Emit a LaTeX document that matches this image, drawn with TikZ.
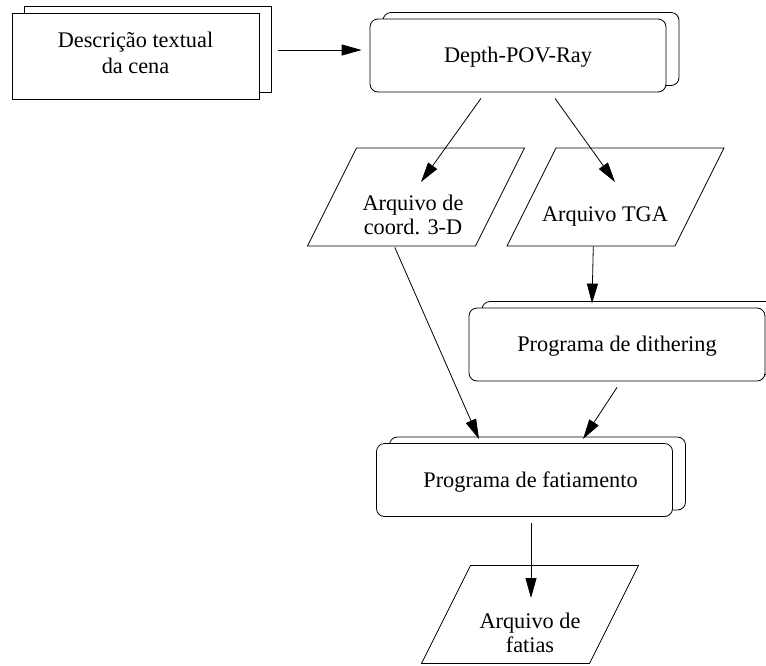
\documentclass[tikz,border=0pt]{standalone}
\usepackage{fontspec}
\setmainfont{Liberation Serif}
\usetikzlibrary{arrows.meta,shadows}
\begin{document}
\begin{tikzpicture}[x=1pt,y=-1pt,
  every node/.style={font=\fontsize{22.3}{24}\selectfont},
  lw/.style={line width=0.8pt},
  backcopy/.style={general shadow={draw=black, fill=white, line width=0.8pt, shadow xshift=#1, shadow yshift=6.5pt}},
  descbox/.style={lw, draw, fill=white, minimum width=247pt, minimum height=86pt, inner sep=0pt, backcopy=12pt},
  procbox/.style={lw, draw, fill=white, rounded corners=8pt, minimum width=296pt, minimum height=73pt, inner sep=0pt, text height=15.6pt, text depth=1pt, backcopy=13pt},
  databox/.style={lw, draw, rectangle, xslant=0.5, transform shape, minimum width=168pt, minimum height=98pt, inner sep=0pt},
  txt/.style={align=center, inner sep=0pt},
  arr/.style={lw, -{Triangle[length=20pt,width=11pt]}}
]
\useasboundingbox (0,0) rectangle (766,665);

% boxes
\node[descbox] (desc) at (135.5,56) {};
\node[procbox] (depth) at (518,55.5) {Depth-POV-Ray};
\node[databox] (coord) at (416,197) {};
\node[databox] (tga) at (615.5,197) {};
\node[procbox] (dith) at (617,344.5) {Programa de dithering};
\node[procbox] (fat) at (524.5,480) {\hspace*{12pt}Programa de fatiamento};
\node[databox] (fatias) at (530,614.5) {};

% texts
\node[txt] (desctext) at (135.5,52.5) {Descrição textual\\[2pt]da cena};
\node[txt] (coordtext) at (413,215) {Arquivo de\\coord. 3-D};
\node[txt] (tgatext) at (605,216.8) {Arquivo TGA};
\node[txt] (fatiastext) at (530,632.4) {Arquivo de\\fatias};

% connectors
\draw[arr] ([xshift=19pt,yshift=6pt]desc.east) -- ([xshift=-8pt,yshift=5.5pt]depth.west);
\draw[arr] ([xshift=-37pt,yshift=-6pt]depth.south) -- ([xshift=5pt,yshift=15pt]coord.center);
\draw[arr] ([xshift=37pt,yshift=-6pt]depth.south) -- ([xshift=-0.5pt,yshift=15pt]tga.center);
\draw[arr] ([xshift=2.5pt]tga.south) -- ([xshift=-25pt,yshift=4pt]dith.north);
\draw[arr] ([xshift=3.5pt,yshift=-1pt]coord.south) -- ([xshift=-45.5pt,yshift=4pt]fat.north);
\draw[arr] ([yshift=-6pt]dith.south) -- ([xshift=58.5pt,yshift=4pt]fat.north);
\draw[arr] ([xshift=6.5pt,yshift=-6pt]fat.south) -- ([xshift=1pt,yshift=16.5pt]fatias.center);
\end{tikzpicture}
\end{document}
